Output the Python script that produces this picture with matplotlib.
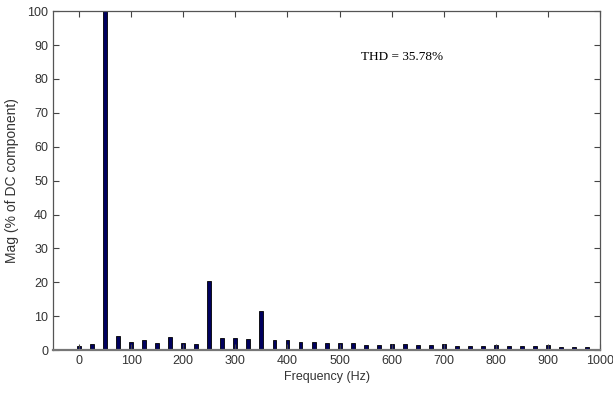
import numpy as np
import matplotlib.pyplot as plt

# Harmonic spectrum, bins every 25 Hz
freq = np.arange(0, 1000, 25)
mag = [1.2, 1.8, 100, 4.2, 2.5, 3.0, 2.2, 4.0, 2.0, 1.8,
       20.5, 3.5, 3.5, 3.3, 11.5, 3.0, 3.0, 2.5, 2.5, 2.0,
       2.0, 2.0, 1.5, 1.5, 1.7, 1.7, 1.5, 1.6, 1.7, 1.2,
       1.2, 1.2, 1.6, 1.3, 1.3, 1.3, 1.6, 1.0, 1.0, 1.0]
xticks = np.arange(0, 1001, 100)
yticks = np.arange(0, 101, 10)
thd_text = 'THD = 35.78%'

plt.rcParams['font.family'] = ['Liberation Sans', 'DejaVu Sans']

fig = plt.figure(figsize=(6.13, 3.97), dpi=100)
ax = fig.add_axes([0.0865, 0.118, 0.8925, 0.854])

ax.bar(freq, mag, width=7.5, color='#00005e', edgecolor='black', linewidth=0.6)

ax.set_xlim(-50, 1000)
ax.set_ylim(0, 100)
ax.set_xticks(xticks)
ax.set_yticks(yticks)
ax.tick_params(direction='in', top=True, right=True, labelsize=9,
               length=4, width=0.8, color='#444444', labelcolor='#333333')
for s in ax.spines.values():
    s.set_color('#555555')
    s.set_linewidth(0.9)
ax.spines['bottom'].set_linewidth(1.6)
ax.spines['bottom'].set_color('#777777')

ax.set_xlabel('Frequency (Hz)', fontsize=9, color='#333333', labelpad=3)
ax.set_ylabel('Mag (% of DC component)', fontsize=10, color='#333333', labelpad=6)

ax.text(542, 86.5, thd_text, family='Liberation Serif', fontsize=9.5,
        ha='left', va='center', color='black')

fig.savefig('out.png', dpi=100)
